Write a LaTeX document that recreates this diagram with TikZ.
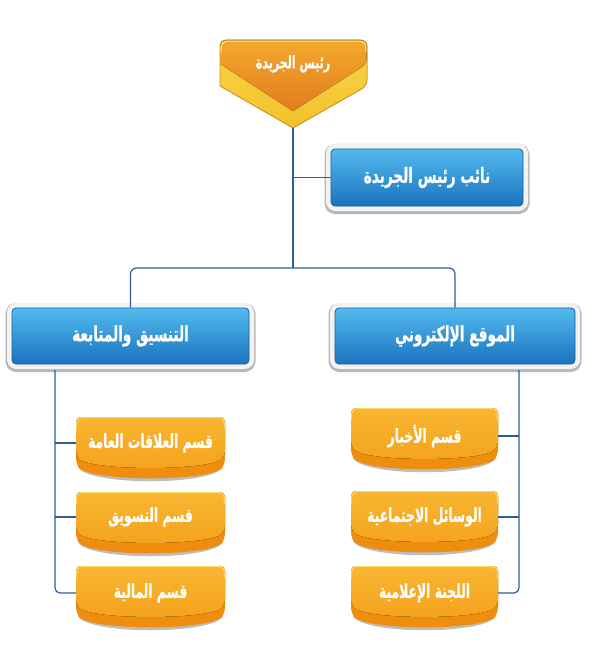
\documentclass[tikz,border=0pt]{standalone}
\usepackage{fontspec}
\newfontfamily\arabicfont[Script=Arabic,FakeStretch=0.65,BoldFeatures={FakeBold=0.6}]{DejaVu Sans}
\TeXXeTstate=1
\definecolor{connc}{HTML}{2E5E97}
\definecolor{blueTop}{HTML}{52BBEE}
\definecolor{blueBot}{HTML}{1C72BE}
\definecolor{blueEdge}{HTML}{1A5E9E}
\definecolor{frameFill}{HTML}{F2F2F2}
\definecolor{frameShadow}{HTML}{B8B8B8}
\definecolor{oTop}{HTML}{F8B632}
\definecolor{oMid}{HTML}{F4A21C}
\definecolor{oDark}{HTML}{EE8D0E}
\definecolor{oShadow}{HTML}{BDBDBD}
\definecolor{oHigh}{HTML}{FCD660}
\definecolor{cOrTop}{HTML}{F3A92C}
\definecolor{cOrBot}{HTML}{E27C20}
\definecolor{cYel}{HTML}{F9D746}
\definecolor{cYelBot}{HTML}{F2C02C}
\definecolor{cEdge}{HTML}{C9921C}
\newcommand\artxt[1]{\beginR #1\endR}
\tikzset{
  conn/.style={draw=connc, line width=1.2pt},
  bluebox/.style={draw=blueEdge, line width=0.8pt, rounded corners=4pt,
    top color=blueTop, bottom color=blueBot, text=white, inner sep=0pt,
    font=\arabicfont\bfseries\fontsize{21}{23}\selectfont,
    preaction={draw=frameShadow, line width=13pt, line join=round, transform canvas={yshift=-1.5pt}},
    preaction={draw=frameFill, line width=10pt, line join=round}},
  otext/.style={text=white, inner sep=0pt, font=\arabicfont\bfseries\fontsize{19}{21}\selectfont}
}
\newcommand\obg[3]{%
  \fill[oShadow] (#1+2,#3+36) -- (#2-2,#3+36) -- (#2-2,#3+50) .. controls (#2-12,#3+69) and (#1+12,#3+69) .. (#1+2,#3+50) -- cycle;
  \fill[oDark, rounded corners=5pt] (#1,#3+30) -- (#1,#3) -- (#2,#3) -- (#2,#3+46) .. controls (#2-12,#3+65) and (#1+12,#3+65) .. (#1,#3+46) -- cycle;
  \fill[top color=oTop, bottom color=oMid, rounded corners=5pt] (#1,#3+20) -- (#1,#3) -- (#2,#3) -- (#2,#3+38) .. controls (#2-14,#3+54) and (#1+14,#3+54) .. (#1,#3+38) -- cycle;
  \draw[oHigh, line width=1.2pt, rounded corners=5pt] (#1+0.6,#3+12) -- (#1+0.6,#3+0.6) -- (#2-0.6,#3+0.6) -- (#2-0.6,#3+12);
}
\begin{document}
\begin{tikzpicture}[x=1pt,y=-1pt]
\useasboundingbox (0,0) rectangle (591,663);
% chief banner
\fill[top color=cYel, bottom color=cYelBot, draw=cEdge, line width=0.8pt, rounded corners=6pt]
  (220,60) -- (220,40) -- (367,40) -- (367,86) [sharp corners] -- (293,128) -- (220,86) -- cycle;
\fill[top color=cOrTop, bottom color=cOrBot, rounded corners=6pt]
  (220.4,55) -- (220.4,40.4) -- (366.6,40.4) -- (366.6,64) [sharp corners] -- (293,111) -- (220.4,64) -- cycle;
\draw[cYel!60!white, line width=1pt, rounded corners=6pt] (221.2,52) -- (221.2,41.2) -- (365.8,41.2) -- (365.8,52);
\node[otext, font=\arabicfont\bfseries\fontsize{17}{19}\selectfont] (chief) at (293,64) {\artxt{رئيس الجريدة}};
\coordinate (chieftip) at (293,128);
% blue boxes
\node[bluebox, minimum width=192pt, minimum height=57pt] (dep) at (427,177.5) {\artxt{نائب رئيس الجريدة}};
\node[bluebox, minimum width=237pt, minimum height=56pt] (left) at (130.5,336) {\artxt{التنسيق والمتابعة}};
\node[bluebox, minimum width=240pt, minimum height=56pt] (right) at (455,336) {\artxt{الموقع الإلكتروني}};
% orange boxes
\obg{76}{225}{417}
\obg{76}{225}{492}
\obg{76}{225}{566}
\obg{351}{498}{408}
\obg{351}{498}{491}
\obg{351}{498}{566}
\node[otext, minimum width=149pt, minimum height=40pt] (l1) at (150.5,443) {\artxt{قسم العلاقات العامة}};
\node[otext, minimum width=149pt, minimum height=40pt] (l2) at (150.5,517) {\artxt{قسم التسويق}};
\node[otext, minimum width=149pt, minimum height=40pt] (l3) at (150.5,593) {\artxt{قسم المالية}};
\node[otext, minimum width=147pt, minimum height=40pt] (r1) at (424.5,436) {\artxt{قسم الأخبار}};
\node[otext, minimum width=147pt, minimum height=40pt] (r2) at (424.5,517) {\artxt{الوسائل الاجتماعية}};
\node[otext, minimum width=147pt, minimum height=40pt] (r3) at (424.5,593) {\artxt{اللجنة الإعلامية}};
% connectors
\coordinate (j) at (293,268);
\coordinate (lx) at (55,370);
\coordinate (rx) at (519,370);
\draw[conn] (chieftip) -- (j);
\draw[conn] (chieftip |- dep.west) -- (dep.west);
\draw[conn, rounded corners=6pt] (left.north) |- (j) -| (right.north);
\draw[conn, rounded corners=5pt] (lx) |- (l3.west);
\draw[conn] (l1.west -| lx) -- (l1.west);
\draw[conn] (l2.west -| lx) -- (l2.west);
\draw[conn, rounded corners=5pt] (rx) |- (r3.east);
\draw[conn] (r1.east -| rx) -- (r1.east);
\draw[conn] (r2.east -| rx) -- (r2.east);
\end{tikzpicture}
\end{document}
